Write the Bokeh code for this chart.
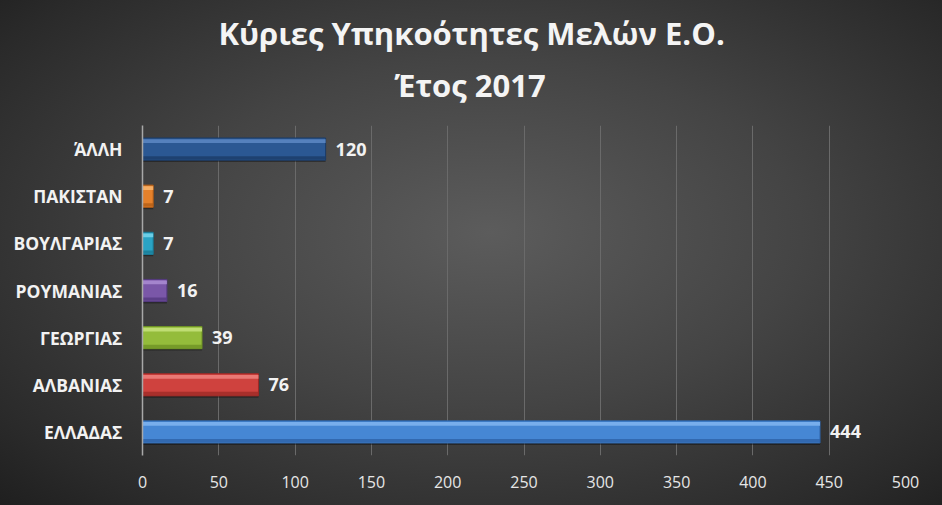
from bokeh.plotting import figure
from bokeh.models import ColumnDataSource, FactorRange, Range1d, FixedTicker, Title
from bokeh.transform import dodge
from bokeh.core.properties import value
from bokeh.embed import file_html
from bokeh.resources import INLINE

# ---- data (bottom to top) ----
categories = ["ΕΛΛΑΔΑΣ", "ΑΛΒΑΝΙΑΣ", "ΓΕΩΡΓΙΑΣ", "ΡΟΥΜΑΝΙΑΣ", "ΒΟΥΛΓΑΡΙΑΣ", "ΠΑΚΙΣΤΑΝ", "ΆΛΛΗ"]
counts = [444, 76, 39, 16, 7, 7, 120]
bar_colors = ["#4687D4", "#CF423E", "#94BC3B", "#7A57A8", "#2AA3C4", "#E5812B", "#2B5893"]
light_colors = ["#7DB2EE", "#EC7F7B", "#C3E07A", "#A88BD0", "#73D3EA", "#F7B36A", "#5A86C2"]
dark_colors = ["#2D62A6", "#9E2A27", "#6E9225", "#553A80", "#1A7A95", "#B35E17", "#1B3C68"]
x_ticks = [0, 50, 100, 150, 200, 250, 300, 350, 400, 450, 500]
title_line1 = "Κύριες Υπηκοότητες Μελών Ε.Ο."
title_line2 = "Έτος 2017"

src = ColumnDataSource(dict(
    cat=categories, val=counts, col=bar_colors, light=light_colors, dark=dark_colors,
    lab=[str(v) for v in counts],
))

p = figure(width=942, height=505, output_backend="svg", toolbar_location=None, title=None,
           y_range=FactorRange(*categories), x_range=Range1d(0, 500),
           min_border_left=142, min_border_right=37, min_border_top=125, min_border_bottom=50)
p.styles = {"background": "radial-gradient(ellipse at 52% 46%, #5c5c5c 0%, #444444 45%, #2a2a2a 85%, #1f1f1f 100%)"}
p.background_fill_color = None
p.border_fill_color = None
p.outline_line_color = None

# grid / axes
p.ygrid.grid_line_color = None
p.xgrid.grid_line_color = "#6a6a6a"
p.xgrid.grid_line_width = 1
p.xaxis.ticker = FixedTicker(ticks=x_ticks)
p.xaxis.axis_line_color = None
p.xaxis.major_tick_line_color = None
p.xaxis.minor_tick_line_color = None
p.xaxis.major_label_text_color = "#e6e6e6"
p.xaxis.major_label_text_font = "Open Sans"
p.xaxis.major_label_text_font_size = "16px"
p.xaxis.major_label_standoff = 14

p.yaxis.axis_line_color = "#a8a8a8"
p.yaxis.axis_line_width = 1.5
p.yaxis.major_tick_line_color = None
p.yaxis.minor_tick_line_color = None
p.yaxis.major_label_text_color = "#f2f2f2"
p.yaxis.major_label_text_font = "Open Sans"
p.yaxis.major_label_text_font_style = "bold"
p.yaxis.major_label_text_font_size = "17.5px"
p.yaxis.major_label_standoff = 14

# shadow
p.hbar(y=dodge("cat", -0.04, range=p.y_range), right="val", left=0, height=0.47, source=src,
       fill_color="black", fill_alpha=0.35, line_color=None)
# main bar
p.hbar(y="cat", right="val", left=0, height=0.47, source=src,
       fill_color="col", line_color="dark", line_width=1)
# top highlight
p.hbar(y=dodge("cat", 0.17, range=p.y_range), right="val", left=0, height=0.08, source=src,
       fill_color="light", fill_alpha=0.9, line_color=None)
# bottom shade
p.hbar(y=dodge("cat", -0.185, range=p.y_range), right="val", left=0, height=0.07, source=src,
       fill_color="dark", fill_alpha=0.8, line_color=None)

# value labels
p.text(x="val", y="cat", text="lab", source=src, x_offset=10,
       text_align="left", text_baseline="middle", text_color="#f2f2f2",
       text_font=value("Open Sans"), text_font_style="bold", text_font_size="18px")

# title (stacked outward from the frame)
title_style = dict(align="left", text_font="Open Sans", text_font_style="bold",
                   text_font_size="31px", text_color="#f4f4f4")
p.add_layout(Title(text=" ", text_font_size="6px", standoff=8), "above")
p.add_layout(Title(text=title_line2, offset=252, standoff=8, **title_style), "above")
p.add_layout(Title(text=title_line1, offset=76, standoff=8, **title_style), "above")

open("out.html", "w").write(file_html(p, INLINE))
